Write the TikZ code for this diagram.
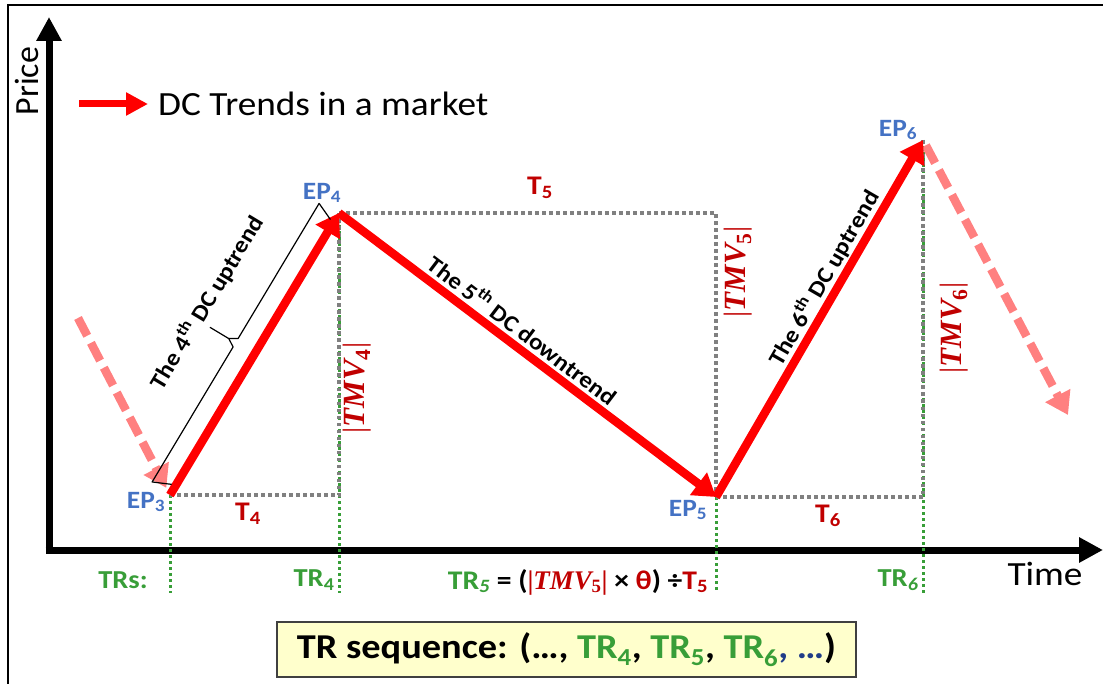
\documentclass[tikz,border=0pt]{standalone}
\usepackage{fontspec}
\setmainfont{Carlito}[FakeStretch=1.1]
\newfontfamily\plainfont{Carlito}
\newfontfamily\tmvfont{Liberation Serif}
\usetikzlibrary{arrows.meta,calc}
\definecolor{eptext}{HTML}{4472C4}
\definecolor{darkred}{HTML}{C00000}
\definecolor{trgreen}{RGB}{56,158,56}
\definecolor{fadered}{RGB}{255,128,128}
\definecolor{seqblue}{HTML}{1F3C88}
\definecolor{boxfill}{HTML}{FFFFCC}
\newcommand{\fsz}[1]{\fontsize{#1}{#1}\selectfont}
\newcommand{\tmv}[1]{{\tmvfont|}{\tmvfont\bfseries\itshape TMV\textsubscript{\upshape#1}}{\tmvfont|}}
\begin{document}
\begin{tikzpicture}[x=1bp,y=-1bp,
  axis/.style={line width=7bp,-{Triangle[length=24bp,width=24bp]}},
  dcarrow/.style={red,line width=8.5bp,-{Triangle[length=22bp,width=27bp]}},
  nextarrow/.style={fadered,line width=8.5bp,dash pattern=on 20bp off 8bp,
    -{Triangle[length=22bp,width=27bp]}},
  graydot/.style={gray,line width=3.5bp,dash pattern=on 3.5bp off 3.5bp},
  greendot/.style={trgreen,line width=3bp,dash pattern=on 3bp off 3bp},
  eplabel/.style={text=eptext,font=\fsz{25}\bfseries,inner sep=0},
  tlabel/.style={text=darkred,font=\fsz{27}\bfseries,inner sep=0},
  trlabel/.style={text=trgreen,font=\fsz{26}\bfseries,inner sep=0},
  tmvlabel/.style={text=darkred,rotate=90,font=\fsz{31},inner sep=0},
  trendtext/.style={font=\fsz{23}\bfseries,inner sep=0},
  seqbox/.style={draw=black!75,line width=1.5bp,fill=boxfill,
    minimum width=579bp,minimum height=55bp,inner sep=0,font=\fsz{35}\bfseries}]
\useasboundingbox (0,0) rectangle (1103,684);
% frame (only left and top edges show)
\draw[line width=2bp] (8,684) -- (8,5) -- (1103,5);
% extreme points
\coordinate (ep3) at (170,495);
\coordinate (ep4) at (339,213);
\coordinate (ep5) at (716,497);
\coordinate (ep6) at (923,140);
\coordinate (trbase) at (0,593);
\coordinate (origin) at (49,550);
\coordinate (ytip) at (49,17);
\coordinate (xtip) at (1103,550);
% axes
\draw[axis] (origin) -- (ytip);
\draw[axis] ([xshift=-3.5bp]origin) -- (xtip);
\node[rotate=90,font=\plainfont\fsz{34},inner sep=0] (price) at (27,81) {Price};
\node[font=\fsz{34},inner sep=0] (time) at (1045,574) {Time};
% legend
\coordinate (legA) at (79,104);
\coordinate (legB) at (148,104);
\draw[red,line width=7bp,-{Triangle[length=22bp,width=22bp]}] (legA) -- (legB);
\node[anchor=west,font=\fsz{34},inner sep=0] (legtext) at (158,104) {DC Trends in a market};
% time lines
\draw[greendot] (ep3) -- (ep3 |- trbase);
\draw[greendot] (ep4) -- (ep4 |- trbase);
\draw[greendot] (ep5) -- (ep5 |- trbase);
\draw[greendot] (ep6) -- (ep6 |- trbase);
\draw[graydot] (ep3) -- (ep3 -| ep4) -- (ep4);
\draw[graydot] (ep4) -- (ep4 -| ep5) -- (ep5);
\draw[graydot] (ep5) -- (ep5 -| ep6) -- (ep6);
% trends
\coordinate (prevstart) at (78,318);
\coordinate (nextend) at (1068,415);
\draw[nextarrow] (prevstart) -- ($(ep3)!8bp!(prevstart)$);
\draw[nextarrow] ($(ep6)!6bp!(nextend)$) -- (nextend);
\draw[dcarrow] (ep3) -- (ep4);
\draw[dcarrow] (ep4) -- (ep5);
\draw[dcarrow] (ep5) -- (ep6);
% brace on the 4th uptrend
\draw[line width=1.2bp,line join=round]
  ($(ep3)!10bp!(ep4)!4bp!90:(ep4)$) -- ($(ep3)!2bp!(ep4)!22bp!90:(ep4)$)
  -- ($(ep3)!0.485!(ep4)!22bp!90:(ep4)$) -- ($(ep3)!0.5!(ep4)!30bp!90:(ep4)$)
  -- ($(ep3)!0.5!(ep4)!52bp!90:(ep4)$);
\draw[line width=1.2bp,line join=round]
  ($(ep3)!0.5!(ep4)!30bp!90:(ep4)$) -- ($(ep3)!0.515!(ep4)!22bp!90:(ep4)$)
  -- ($(ep4)!2bp!(ep3)!22bp!-90:(ep3)$) -- ($(ep4)!10bp!(ep3)!4bp!-90:(ep3)$);
\node[trendtext,rotate=59] (trend4) at ($(ep3)!0.56!(ep4)!68bp!90:(ep4)$)
  {The 4\textsuperscript{th} DC uptrend};
\node[trendtext,rotate=-37.2] (trend5) at ($(ep4)!0.46!(ep5)!18bp!90:(ep5)$)
  {The 5\textsuperscript{th} DC downtrend};
\node[trendtext,rotate=60] (trend6) at ($(ep5)!0.59!(ep6)!17bp!90:(ep6)$)
  {The 6\textsuperscript{th} DC uptrend};
% labels
\node[eplabel] (ep3lbl) at (146,502) {EP\textsubscript{3}};
\node[eplabel] (ep4lbl) at (322,193) {EP\textsubscript{4}};
\node[eplabel] (ep5lbl) at (688,510) {EP\textsubscript{5}};
\node[eplabel] (ep6lbl) at (898,130) {EP\textsubscript{6}};
\node[tlabel] (t4) at (248,514) {T\textsubscript{4}};
\node[tlabel] (t5) at (540,188) {T\textsubscript{5}};
\node[tlabel] (t6) at (828,516) {T\textsubscript{6}};
\node[tmvlabel] (tmv4) at (357,388) {\tmv{4}};
\node[tmvlabel] (tmv5) at (738,272) {\tmv{5}};
\node[tmvlabel] (tmv6) at (954,328) {\tmv{6}};
% time ratios
\node[trlabel] (trs) at (123,580) {TRs:};
\node[trlabel] (tr4) at (314,580) {TR\textsubscript{4}};
\node[font=\fsz{27}\bfseries,inner sep=0] (tr5) at (578,582)
  {{\color{trgreen}TR\textsubscript{\itshape 5}} = (\textcolor{darkred}{\tmv{5}} ×
   \textcolor{darkred}{θ}) ÷\textcolor{darkred}{T\textsubscript{5}}};
\node[trlabel] (tr6) at (898,580) {TR\textsubscript{\itshape 6}};
\node[seqbox] (seq) at (566.5,649.5) {TR sequence: (…,
  \textcolor{trgreen}{TR\textsubscript{4}}, \textcolor{trgreen}{TR\textsubscript{5}},
  \textcolor{trgreen}{TR\textsubscript{6}}\textcolor{seqblue}{, …})};
\end{tikzpicture}
\end{document}
